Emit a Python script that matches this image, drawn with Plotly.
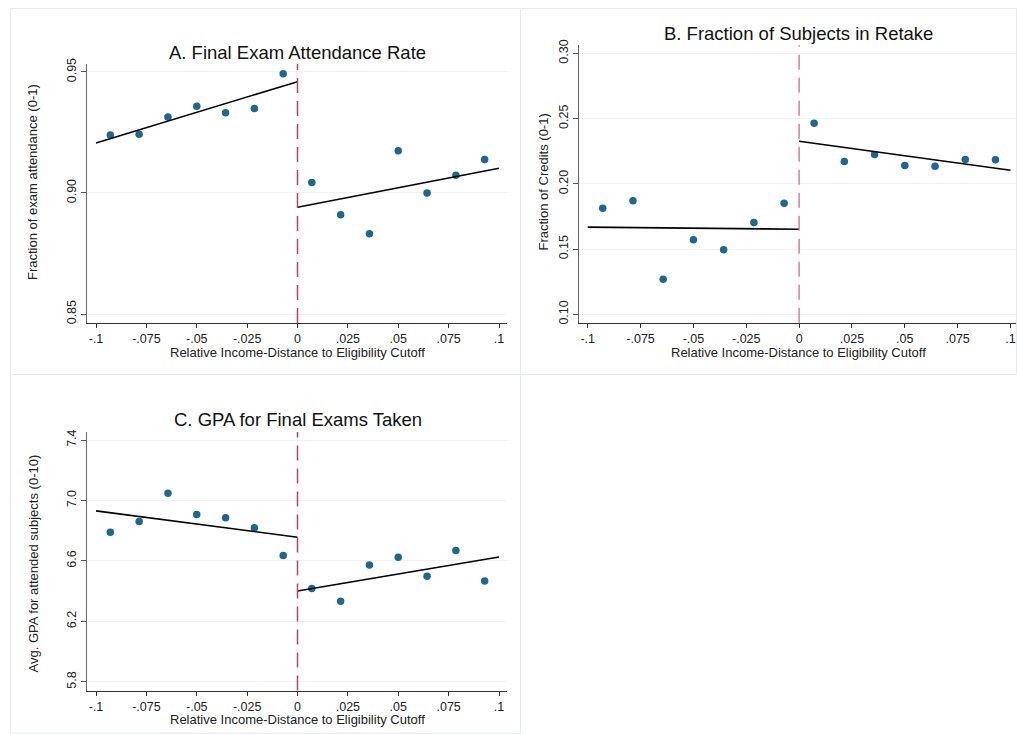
import plotly.graph_objects as go

# Bin midpoints of the running variable (relative income distance to cutoff)
bins_left = [-0.0929, -0.0786, -0.0643, -0.05, -0.0357, -0.0214, -0.0071]
bins_right = [0.0071, 0.0214, 0.0357, 0.05, 0.0643, 0.0786, 0.0929]
fit_x_left = [-0.1, 0.0]
fit_x_right = [0.0, 0.1]

# Panel A: final exam attendance rate
attend_left = [0.924, 0.9243, 0.9314, 0.9358, 0.9332, 0.9349, 0.9493]
attend_right = [0.9043, 0.891, 0.8832, 0.9175, 0.900, 0.9073, 0.9138]
attend_fit_left = [0.9207, 0.946]
attend_fit_right = [0.8941, 0.9102]

# Panel B: fraction of subjects in retake
retake_left = [0.1813, 0.187, 0.1269, 0.1571, 0.1494, 0.1703, 0.1851]
retake_right = [0.2464, 0.2171, 0.2225, 0.214, 0.2135, 0.2186, 0.2184]
retake_fit_left = [0.1668, 0.1652]
retake_fit_right = [0.2326, 0.2104]

# Panel C: GPA for final exams taken
gpa_left = [6.79, 6.861, 7.048, 6.907, 6.885, 6.819, 6.636]
gpa_right = [6.417, 6.333, 6.574, 6.625, 6.499, 6.669, 6.468]
gpa_fit_left = [6.931, 6.757]
gpa_fit_right = [6.401, 6.626]

x_tickvals = [-0.1, -0.075, -0.05, -0.025, 0, 0.025, 0.05, 0.075, 0.1]
x_ticktext = ["-.1", "-.075", "-.05", "-.025", "0", ".025", ".05", ".075", ".1"]

y_ticks_a = [0.85, 0.90, 0.95]
y_ticks_b = [0.10, 0.15, 0.20, 0.25, 0.30]
y_ticks_c = [5.8, 6.2, 6.6, 7.0, 7.4]

titles = ["A. Final Exam Attendance Rate",
          "B. Fraction of Subjects in Retake",
          "C. GPA for Final Exams Taken"]
y_titles = ["Fraction of exam attendance (0-1)",
            "Fraction of Credits (0-1)",
            "Avg. GPA for attended subjects (0-10)"]
x_title = "Relative Income-Distance to Eligibility Cutoff"

W, H = 1017, 734
FONT = "Liberation Sans, Arial, sans-serif"
DOT = "#1b6890"
CUT = ["#b84462", "#dc7b9a", "#b84462"]

fig = go.Figure()

panels = [
    # (x suffix, y suffix, left, right, top, bottom px, y range, yticks, ytick fmt,
    #  x range, data...)
    ("", "", 87, 507, 64, 323, [0.84628, 0.9533], y_ticks_a, "{:.2f}",
     [-0.10447, 0.10397], attend_left, attend_right, attend_fit_left, attend_fit_right),
    ("2", "2", 579.3, 1016, 45, 322.7, [0.09356, 0.3064], y_ticks_b, "{:.2f}",
     [-0.10398, 0.1026], retake_left, retake_right, retake_fit_left, retake_fit_right),
    ("3", "3", 87, 507, 432, 690.5, [5.743, 7.453], y_ticks_c, "{:.1f}",
     [-0.10447, 0.10397], gpa_left, gpa_right, gpa_fit_left, gpa_fit_right),
]

for i, (xs, ys, l, r, t, b, yr, yt, fmt, xr, yl, yrgt, fl, fr) in enumerate(panels):
    xa, ya = "x" + xs, "y" + ys
    for xx, yy in ((bins_left, yl), (bins_right, yrgt)):
        fig.add_trace(go.Scatter(x=xx, y=yy, mode="markers", xaxis=xa, yaxis=ya,
                                 marker=dict(color=DOT, size=7.5, line=dict(width=0)),
                                 showlegend=False, hoverinfo="x+y"))
    for xx, yy in ((fit_x_left, fl), (fit_x_right, fr)):
        fig.add_trace(go.Scatter(x=xx, y=yy, mode="lines", xaxis=xa, yaxis=ya,
                                 line=dict(color="black", width=1.6),
                                 showlegend=False, hoverinfo="skip"))
    fig.update_layout(**{
        "xaxis" + xs: dict(domain=[l / W, r / W], range=xr, anchor=ya,
                           tickvals=x_tickvals, ticktext=x_ticktext,
                           ticks="outside", ticklen=4, tickcolor="#333",
                           showline=True, linecolor="#333", linewidth=1.2,
                           showgrid=False, zeroline=False, fixedrange=True,
                           automargin=False,
                           tickfont=dict(family=FONT, size=12.5, color="#222")),
        "yaxis" + ys: dict(domain=[1 - b / H, 1 - t / H], range=yr, anchor=xa,
                           tickvals=yt, ticktext=[fmt.format(v) for v in yt],
                           tickangle=-90, ticks="outside", ticklen=5, tickcolor="#555",
                           showline=True, linecolor="#666", linewidth=1.2,
                           showgrid=True, gridcolor="#eef2f6", gridwidth=1,
                           zeroline=False, fixedrange=True, automargin=False,
                           tickfont=dict(family=FONT, size=12.5, color="#222")),
    })
    # eligibility cutoff
    fig.add_shape(type="line", xref=xa, yref=ya + " domain", x0=0, x1=0, y0=0, y1=1,
                  line=dict(color=CUT[i], width=1.5, dash="15px,8px"))

# panel frames
for (x0, y0, x1, y1) in [(10.5, 8.5, 520.5, 374.5), (520.5, 8.5, 1016.5, 374.5),
                         (10.5, 374.5, 520.5, 733.5)]:
    fig.add_shape(type="rect", xref="paper", yref="paper",
                  x0=x0 / W, x1=x1 / W, y0=1 - y1 / H, y1=1 - y0 / H,
                  line=dict(color="#e4eaf0", width=1), layer="below")

# titles and axis titles
title_pos = [(297, 52), (798.5, 33), (298, 419)]
xt_pos = [(297, 352.5), (798.5, 352.5), (297, 719.5)]
yt_pos = [(32.5, 182.5), (543, 182.5), (32.5, 564)]
for i in range(3):
    tx, ty = title_pos[i]
    fig.add_annotation(text=titles[i], x=tx / W, y=1 - ty / H, xref="paper", yref="paper",
                       showarrow=False, xanchor="center", yanchor="middle",
                       font=dict(family=FONT, size=18.5, color="#111"))
    ax_, ay_ = xt_pos[i]
    fig.add_annotation(text=x_title, x=ax_ / W, y=1 - ay_ / H, xref="paper", yref="paper",
                       showarrow=False, xanchor="center", yanchor="middle",
                       font=dict(family=FONT, size=13, color="#222"))
    bx, by = yt_pos[i]
    fig.add_annotation(text=y_titles[i], x=bx / W, y=1 - by / H, xref="paper", yref="paper",
                       showarrow=False, xanchor="center", yanchor="middle", textangle=-90,
                       font=dict(family=FONT, size=13, color="#222"))

fig.update_layout(width=W, height=H,
                  margin=dict(l=0, r=0, t=0, b=0, pad=0, autoexpand=False),
                  paper_bgcolor="white", plot_bgcolor="white",
                  font=dict(family=FONT))

fig.write_html("out.html")
